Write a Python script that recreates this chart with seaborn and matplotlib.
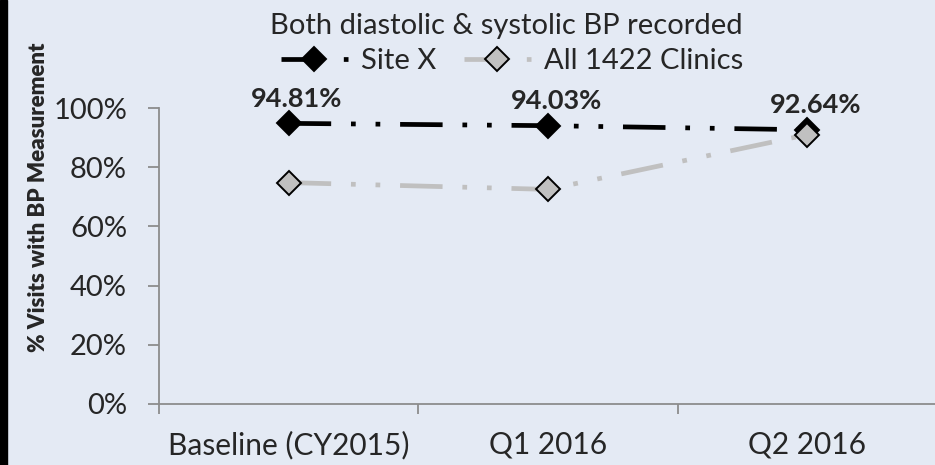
import numpy as np
import pandas as pd
import matplotlib
matplotlib.use('Agg')
import matplotlib.pyplot as plt
import seaborn as sns
from matplotlib.patches import Rectangle
from matplotlib.ticker import FixedLocator, PercentFormatter

# data
periods = ['Baseline (CY2015)', 'Q1 2016', 'Q2 2016']
site_x = [0.9481, 0.9403, 0.9264]
all_clinics = [0.748, 0.725, 0.910]
series_names = ['Site X', 'All 1422 Clinics']
subtitle = 'Both diastolic & systolic BP recorded'
y_label = '% Visits with BP Measurement'

bg = '#E4EAF4'
sns.set_style('white', {'axes.facecolor': bg, 'figure.facecolor': bg})
plt.rcParams['font.family'] = ['Lato', 'DejaVu Sans']

df = pd.DataFrame({
    'period': periods * 2,
    'value': site_x + all_clinics,
    'series': [series_names[0]] * 3 + [series_names[1]] * 3,
})

fig = plt.figure(figsize=(9.35, 4.65), dpi=100)
ax = fig.add_axes([159 / 935, 1 - 404 / 465, 778 / 935, 296 / 465])
ax.set_facecolor(bg)

dash = (9.0, 4.2, 1, 4.2, 1, 4.2)
sns.lineplot(data=df, x='period', y='value', hue='series', style='series',
             hue_order=series_names, style_order=series_names,
             palette={'Site X': 'black', 'All 1422 Clinics': '#C0C0C0'},
             dashes={'Site X': dash, 'All 1422 Clinics': dash},
             markers={'Site X': 'D', 'All 1422 Clinics': 'D'},
             markersize=12.5, markeredgecolor='black', markeredgewidth=1.4,
             linewidth=3.4, legend=False, ax=ax)

# data labels for Site X
for i, v in enumerate(site_x):
    ax.annotate(f'{v * 100:.2f}%', (i, v), xytext=(6, 9), textcoords='offset points',
                ha='center', va='bottom', fontsize=19.5, fontweight='bold')

ax.set_xlim(-0.5, 2.5)
ax.set_ylim(0, 1)
ax.yaxis.set_major_locator(FixedLocator(np.arange(0, 1.01, 0.2)))
ax.yaxis.set_major_formatter(PercentFormatter(1.0, decimals=0))
ax.xaxis.set_minor_locator(FixedLocator([-0.5, 0.5, 1.5, 2.5]))
ax.set_xlabel('')
ax.set_ylabel('')

for s in ['top', 'right']:
    ax.spines[s].set_visible(False)
for s in ['left', 'bottom']:
    ax.spines[s].set_color('#8C8C8C')
    ax.spines[s].set_linewidth(1.3)

ax.tick_params(axis='y', which='major', length=8, width=1.3, color='#8C8C8C',
               labelsize=21, pad=15, left=True)
ax.tick_params(axis='x', which='major', length=0, labelsize=21.5, pad=19)
ax.tick_params(axis='x', which='minor', length=7.5, width=1.3, color='#8C8C8C',
               bottom=True, direction='out')

fig.text(39 / 935, 1 - 197 / 465, y_label, rotation=90, ha='center', va='center',
         fontsize=16, fontweight='heavy')
fig.text(506 / 935, 1 - 26 / 465, subtitle, ha='center', va='center', fontsize=21)

fig.legend(handles=ax.lines[:2], labels=series_names, loc='center',
           bbox_to_anchor=(512 / 935, 1 - 61 / 465), ncol=2, frameon=False,
           fontsize=21, handlelength=2.3, handletextpad=0.45, columnspacing=0.95,
           borderaxespad=0, borderpad=0)

# dark strip down the left edge
fig.patches.append(Rectangle((0, 0), 7 / 935, 1, transform=fig.transFigure,
                             color='black', zorder=10))

fig.savefig('out.png', dpi=100)
